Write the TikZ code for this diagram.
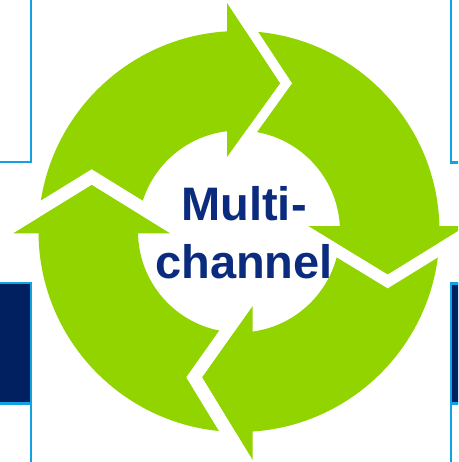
\documentclass[tikz,border=0pt]{standalone}
\usepackage{fontspec}
\setmainfont{Liberation Sans}
\definecolor{ringgreen}{HTML}{92D400}
\definecolor{navytext}{HTML}{0B2C7E}
\definecolor{navybox}{HTML}{002060}
\definecolor{boxblue}{HTML}{12A2E2}
\begin{document}
\begin{tikzpicture}[x=1pt,y=-1pt,
  boxline/.style={draw=boxblue,line width=2.4pt},
  navyfill/.style={fill=navybox},
  greenpart/.style={fill=ringgreen},
  gapband/.style={fill=white},
  centretext/.style={anchor=base,text=navytext,inner sep=0pt,font=\fontsize{47}{56}\selectfont\bfseries}]
\useasboundingbox (0,0) rectangle (458,462);
\clip (0,0) rectangle (458,462);
\fill[white] (0,0) rectangle (458,462);
% side boxes, left
\draw[boxline] (-10,-10) rectangle (31.2,162.2);
\fill[navyfill] (-10,282.8) rectangle (31.2,403.3);
\draw[boxline] (-10,282.8) rectangle (31.2,480);
\draw[boxline] (-10,403.3) -- (31.2,403.3);
% side boxes, right
\draw[boxline] (451,-10) rectangle (470,162.5);
\fill[navyfill] (451,283.3) rectangle (470,403.3);
\draw[boxline] (451,283.3) rectangle (470,480);
\draw[boxline] (451,403.3) -- (470,403.3);
% ring
\coordinate (O) at (239,231.5);
\fill[greenpart,even odd rule] (O) circle[radius=200.5] (O) circle[radius=101];
% arrow heads: outer corner, tip, inner corner
\coordinate (Ao) at (227,3);     \coordinate (At) at (280,83.3);   \coordinate (Ai) at (227,157);
\coordinate (Bo) at (466,226);   \coordinate (Bt) at (387.7,274.3); \coordinate (Bi) at (308.3,226);
\coordinate (Co) at (252.7,460); \coordinate (Ct) at (202.3,377.3); \coordinate (Ci) at (252.7,306);
\coordinate (Do) at (13.3,233.3); \coordinate (Dt) at (91.7,185);  \coordinate (Di) at (170,233.3);
% white gaps between a head and the next tail
\fill[gapband] (Ao) -- (At) -- (Ai) -- ([xshift=12pt]Ai) -- ([xshift=12pt]At) -- ([xshift=12pt]Ao) -- cycle;
\fill[gapband] (Bo) -- (Bt) -- (Bi) -- ([yshift=-14pt]Bi) -- ([yshift=-14pt]Bt) -- ([yshift=-14pt]Bo) -- cycle;
\fill[gapband] (Co) -- (Ct) -- (Ci) -- ([xshift=-16pt]Ci) -- ([xshift=-16pt]Ct) -- ([xshift=-16pt]Co) -- cycle;
\fill[gapband] (Do) -- (Dt) -- (Di) -- ([yshift=15.7pt]Di) -- ([yshift=15.7pt]Dt) -- ([yshift=15.7pt]Do) -- cycle;
% heads
\fill[greenpart] (Ao) -- (At) -- (Ai) -- cycle;
\fill[greenpart] (Bo) -- (Bt) -- (Bi) -- cycle;
\fill[greenpart] (Co) -- (Ct) -- (Ci) -- cycle;
\fill[greenpart] (Do) -- (Dt) -- (Di) -- cycle;
% text
\node[centretext] (t1) at (244,220) {Multi-};
\node[centretext] (t2) at (244,278.3) {channel};
\end{tikzpicture}
\end{document}
